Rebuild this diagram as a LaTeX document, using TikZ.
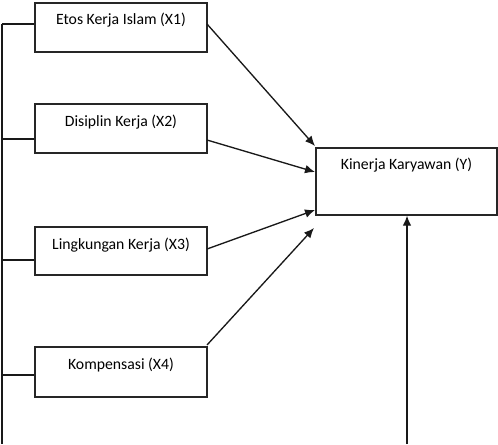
\documentclass[tikz,border=0pt]{standalone}
\usepackage{fontspec}
\setmainfont{Carlito}
\usetikzlibrary{arrows.meta}
\begin{document}
\begin{tikzpicture}[x=0.75pt,y=-0.75pt,
  box/.style={draw=black!85,line width=1pt,rectangle,inner sep=0pt},
  lbl/.style={font=\fontsize{11.8}{14}\selectfont,inner sep=0pt,anchor=center},
  conn/.style={draw=black!90,line width=1pt},
  arr/.style={conn,-{Latex[length=7.5pt,width=6.5pt]}}]
\useasboundingbox (0,0) rectangle (498,444);
% boxes
\node[box,minimum width=129pt,minimum height=36.75pt] (x1) at (121,27.5) {};
\node[box,minimum width=129pt,minimum height=36.75pt] (x2) at (121,128.5) {};
\node[box,minimum width=129pt,minimum height=36pt] (x3) at (121,251) {};
\node[box,minimum width=129pt,minimum height=37.5pt] (x4) at (121,372) {};
\node[box,minimum width=135.75pt,minimum height=50.25pt] (y) at (406.5,181.5) {};
% labels
\node[lbl] (t1) at (121,20) {Etos Kerja Islam (X1)};
\node[lbl] (t2) at (121,122) {Disiplin Kerja (X2)};
\node[lbl] (t3) at (121,245) {Lingkungan Kerja (X3)};
\node[lbl] (t4) at (121,365) {Kompensasi (X4)};
\node[lbl] (ty) at (406.5,165) {Kinerja Karyawan (Y)};
% left bus
\coordinate (l1) at (2,24);
\coordinate (l2) at (2,139);
\coordinate (l3) at (2,260);
\coordinate (l4) at (2,375);
\coordinate (lb) at (2,444);
\draw[conn] (l1) -- (lb);
\draw[conn] (l1) -- (x1.west |- l1);
\draw[conn] (l2) -- (x2.west |- l2);
\draw[conn] (l3) -- (x3.west |- l3);
\draw[conn] (l4) -- (x4.west |- l4);
% arrows to Y
\coordinate (s1) at (207,24);
\coordinate (s2) at (207,140);
\coordinate (s3) at (207,249);
\coordinate (s4) at (207,345);
\coordinate (e1) at (315,146);
\coordinate (e2) at (315,172);
\coordinate (e3) at (315,210);
\coordinate (e4) at (314,228);
\draw[arr] (s1) -- (e1);
\draw[arr] (s2) -- (e2);
\draw[arr] (s3) -- (e3);
\draw[arr] (s4) -- (e4);
\coordinate (yb) at (407,444);
\draw[arr] (yb) -- (y.south -| yb);
\end{tikzpicture}
\end{document}
